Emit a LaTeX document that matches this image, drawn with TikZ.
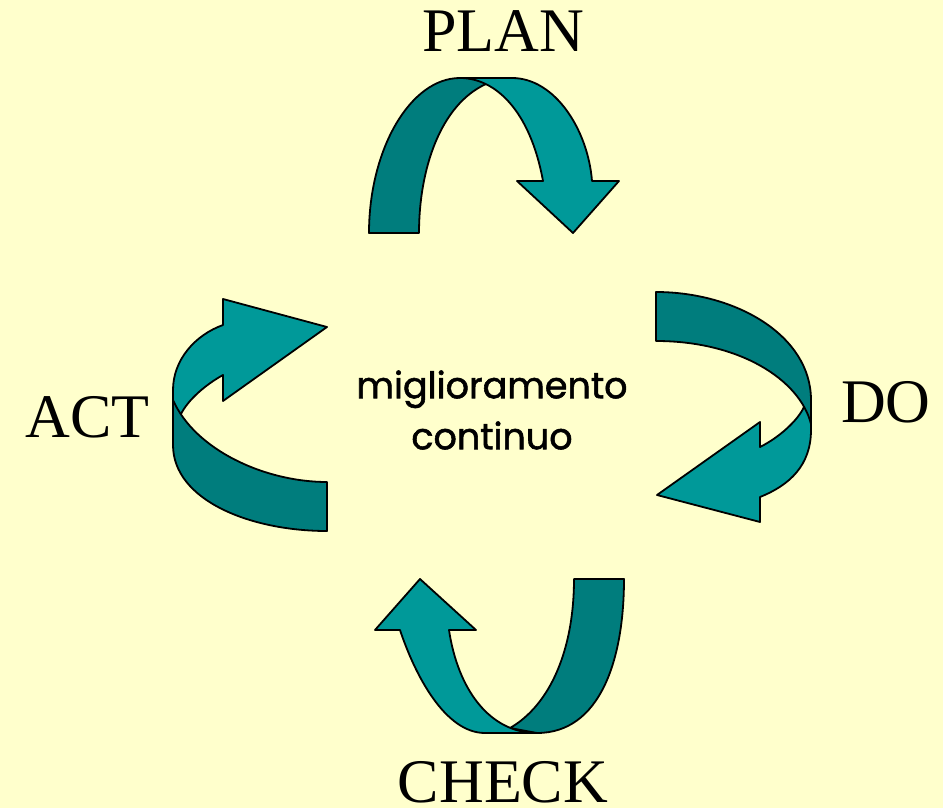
\documentclass[tikz,border=0pt]{standalone}
\usepackage{fontspec}
\setmainfont{Liberation Serif}
\newfontfamily\handfont[FakeBold=1.5]{Poppins}
\definecolor{bgyellow}{RGB}{255,255,204}
\definecolor{tealdark}{RGB}{0,125,125}
\definecolor{teallight}{RGB}{0,153,153}
\begin{document}
\begin{tikzpicture}[x=1pt,y=-1pt,
  band/.style={draw=black,line width=1.8pt,line join=round},
  darkband/.style={band,fill=tealdark},
  lightband/.style={band,fill=teallight},
  phase/.style={font=\fontsize{62}{62}\selectfont,anchor=base,inner sep=0pt},
  centertext/.style={font=\handfont\fontsize{36.5}{51}\selectfont,align=center,inner sep=0pt}]
\fill[bgyellow] (0,0) rectangle (943,808);
\useasboundingbox (0,0) rectangle (943,808);

% PLAN arrow (light band on top)
\draw[darkband] (369,233) .. controls (369,150) and (410,78) .. (460,78) -- (497,78) -- (486,84)
  .. controls (440,105) and (419,170) .. (419,233) -- cycle;
\draw[lightband] (460,78) -- (512,78) .. controls (555,78) and (588,130) .. (592,181)
  -- (619,181) -- (573,233) -- (517,181) -- (543,181)
  .. controls (530,110) and (495,78) .. (460,78) -- cycle;

% DO arrow (dark band on top)
\draw[lightband] (811,400) -- (811,430) .. controls (811,465) and (790,485) .. (760,497)
  -- (760,522) -- (657,495) -- (760,422) -- (760,447)
  .. controls (780,437) and (798,420) .. (804,407) -- cycle;
\draw[darkband] (656,292) .. controls (735,292) and (811,335) .. (811,400) -- (811,424)
  .. controls (800,380) and (740,341) .. (656,341) -- cycle;

% CHECK arrow (light band on top)
\draw[darkband] (574,579) -- (624,579) .. controls (624,660) and (600,733) .. (537,733)
  -- (510,728) .. controls (550,705) and (574,650) .. (574,579) -- cycle;
\draw[lightband] (537,733) -- (485,733) .. controls (445,733) and (415,675) .. (400,630)
  -- (375,630) -- (420,579) -- (476,630) -- (449,630)
  .. controls (458,690) and (490,733) .. (537,733) -- cycle;

% ACT arrow (dark band on top)
\draw[lightband] (173,430) -- (173,390) .. controls (173,360) and (195,335) .. (223,325)
  -- (223,299) -- (327,327) -- (223,401) -- (223,375)
  .. controls (205,385) and (188,400) .. (181,414) -- cycle;
\draw[darkband] (327,531) .. controls (250,531) and (173,500) .. (173,445) -- (173,400)
  .. controls (195,450) and (265,482) .. (327,482) -- cycle;

% labels
\node[phase] (plan) at (503,52) {PLAN};
\node[phase] (do) at (886,422) {DO};
\node[phase] (check) at (503,802) {CHECK};
\node[phase] (act) at (87.5,437) {ACT};
\node[centertext] (mc) at (492,410) {miglioramento\\continuo};
\end{tikzpicture}
\end{document}
